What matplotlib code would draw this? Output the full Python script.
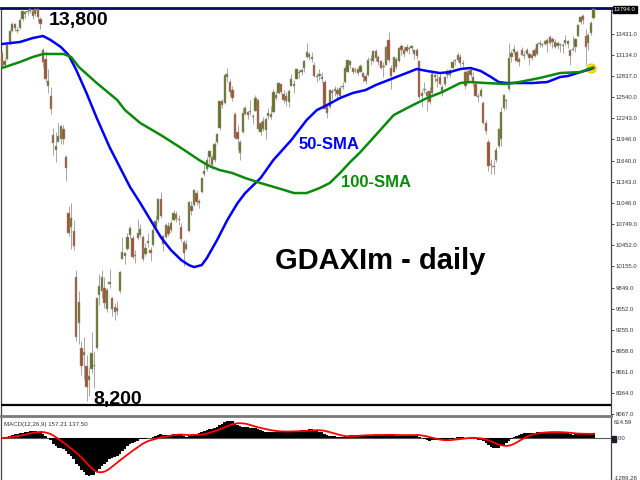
import numpy as np
import pandas as pd
import matplotlib
matplotlib.use("Agg")
import matplotlib.pyplot as plt

plt.rcParams['font.family'] = ['Liberation Sans', 'DejaVu Sans']

# GDAXIm daily bars, 31 Jan 2020 .. 28 Dec 2020 (one line per month)
opens = [13160,
    12990, 13080, 13300, 13480, 13570, 13480, 13510, 13640, 13720, 13750, 13760, 13750, 13720, 13780, 13640, 13200, 13080, 12700, 12560, 12000,
    11800, 11900, 11950, 12090, 11700, 10900, 10700, 10650, 10000, 9350, 9000, 8900, 8750, 8550, 8700, 8750, 9000, 9750, 9800, 9850, 9550, 9900,
    9700, 9500, 9560, 9800, 10250, 10300, 10400, 10600, 10550, 10300, 10550, 10600, 10560, 10320, 10480, 10380, 10450, 10700, 10800, 11100,
    10580, 10560, 10720, 10660, 10800, 10890, 10800, 10700, 10500, 10400, 10650, 11000, 11020, 11180, 11050, 11200, 11450, 11530, 11690, 11700,
    11650, 11900, 12100, 12480, 12450, 12870, 12750, 12640, 12300, 12050, 11750, 12050, 12300, 12330, 12350, 12260, 12350, 12500, 12050, 12200, 12080, 12280,
    12300, 12330, 12570, 12600, 12720, 12580, 12550, 12470, 12700, 12730, 12800, 12900, 12890, 12950, 13100, 13150, 13080, 13000, 12830, 12860, 12800, 12750, 12400,
    12400, 12630, 12620, 12640, 12560, 12700, 12750, 12900, 13050, 12950, 12910, 12930, 12900, 12880, 12840, 12850, 13080, 13050, 13190, 13100, 13050,
    12960, 13000, 13350, 12950, 12900, 13080, 13050, 13260, 13150, 13250, 13220, 13230, 13150, 13200, 13050, 12560, 12640, 12560, 12620, 12600, 12850, 12800,
    12830, 12620, 12720, 12850, 12850, 12950, 13050, 13070, 13110, 13010, 12900, 12760, 12920, 12830, 12720, 12540, 12560, 12450, 12170, 11900, 11580, 11560,
    11650, 11850, 11950, 12380, 12500, 12650, 13100, 13180, 13180, 13030, 13200, 13120, 13150, 13150, 13090, 13200, 13150, 13300, 13280, 13290, 13350,
    13300, 13360, 13320, 13260, 13280, 13260, 13300, 13330, 13200, 13200, 13250, 13400, 13600, 13680, 13400, 13300, 13440, 13650]

highs = [13190,
    13090, 13300, 13490, 13600, 13580, 13530, 13650, 13760, 13760, 13770, 13800, 13790, 13800, 13800, 13670, 13240, 13190, 12930, 12680, 12100,
    12050, 12170, 12150, 12140, 11730, 11000, 11050, 10800, 10100, 9800, 9100, 9150, 8900, 8720, 9230, 8950, 9720, 10050, 10100, 10000, 9850, 10120,
    9720, 9630, 9660, 10090, 10570, 10360, 10620, 10720, 10600, 10380, 10820, 10750, 10600, 10480, 10620, 10420, 10700, 10870, 11110, 11200,
    10600, 10770, 10780, 10810, 10950, 10930, 10870, 10760, 10520, 10520, 11070, 11080, 11240, 11230, 11100, 11400, 11600, 11690, 11790, 11720,
    11900, 12040, 12490, 12520, 12880, 12950, 12790, 12700, 12330, 12150, 11930, 12400, 12420, 12350, 12500, 12300, 12570, 12520, 12200, 12260, 12260, 12380,
    12420, 12650, 12620, 12750, 12730, 12640, 12610, 12650, 12860, 12780, 12950, 12920, 12950, 13060, 13310, 13180, 13180, 13040, 12880, 12940, 12900, 12780, 12450,
    12660, 12650, 12700, 12680, 12690, 12760, 13000, 13070, 13060, 12970, 12970, 12960, 13010, 12900, 12880, 13100, 13140, 13200, 13220, 13140, 13060,
    13030, 13260, 13460, 13000, 13110, 13100, 13250, 13290, 13250, 13290, 13260, 13280, 13220, 13230, 13060, 12640, 12760, 12640, 12680, 12890, 12880, 12860,
    12890, 12720, 12840, 12930, 12940, 13060, 13080, 13170, 13150, 13070, 12920, 12920, 12970, 12900, 12760, 12600, 12680, 12480, 12220, 11950, 11670, 11650,
    11830, 12100, 12400, 12580, 12520, 13300, 13200, 13280, 13210, 13110, 13250, 13190, 13240, 13170, 13200, 13250, 13300, 13340, 13310, 13350, 13370,
    13420, 13390, 13360, 13330, 13300, 13300, 13420, 13350, 13220, 13400, 13380, 13570, 13700, 13720, 13500, 13440, 13620, 13810]

lows = [12950,
    12950, 13060, 13280, 13460, 13480, 13440, 13500, 13620, 13650, 13700, 13730, 13640, 13690, 13600, 13500, 12970, 12750, 12600, 12300, 11720,
    11630, 11900, 11880, 11880, 11360, 10580, 10400, 10380, 9100, 9050, 8620, 8560, 8255, 8320, 8650, 8440, 8990, 9600, 9700, 9560, 9500, 9850,
    9450, 9400, 9460, 9780, 10250, 10180, 10380, 10550, 10260, 10200, 10530, 10570, 10230, 10300, 10430, 10220, 10440, 10640, 10780, 10830,
    10370, 10550, 10580, 10640, 10790, 10780, 10730, 10510, 10160, 10380, 10640, 10880, 11000, 11020, 10970, 11190, 11430, 11500, 11600, 11530,
    11630, 11880, 12080, 12380, 12440, 12750, 12560, 12490, 11950, 11800, 11650, 12040, 12290, 12230, 12290, 12160, 12340, 12080, 12000, 12060, 11950, 12230,
    12230, 12320, 12500, 12590, 12580, 12460, 12420, 12400, 12690, 12600, 12790, 12810, 12850, 12900, 13090, 13060, 13030, 12820, 12760, 12780, 12760, 12400, 12250,
    12390, 12520, 12560, 12530, 12520, 12650, 12740, 12890, 12950, 12860, 12880, 12850, 12890, 12750, 12730, 12840, 13000, 13030, 13050, 13000, 12930,
    12830, 12990, 13030, 12660, 12890, 12940, 13030, 13140, 13100, 13170, 13150, 13190, 13080, 13080, 12520, 12400, 12600, 12340, 12440, 12590, 12760, 12680,
    12710, 12560, 12700, 12810, 12820, 12930, 13000, 13040, 12980, 12970, 12650, 12750, 12830, 12700, 12550, 12470, 12540, 12160, 12020, 11500, 11450, 11450,
    11620, 11820, 11850, 12360, 12370, 12620, 13030, 13150, 13030, 12980, 13130, 13080, 13130, 12990, 13070, 13110, 13140, 13250, 13250, 13270, 13180,
    13280, 13240, 13230, 13220, 13170, 13160, 13280, 13240, 13000, 13190, 13180, 13390, 13570, 13570, 13000, 13200, 13420, 13640]

closes = [12982,
    13045, 13281, 13479, 13575, 13513, 13494, 13627, 13749, 13745, 13744, 13783, 13681, 13789, 13664, 13579, 13035, 12790, 12774, 12367, 11890,
    11857, 11985, 12127, 11944, 11541, 10625, 10830, 10439, 9161, 9650, 8742, 8939, 8442, 8610, 8929, 8741, 9701, 9874, 10000, 9633, 9815, 9936,
    9544, 9571, 9525, 10075, 10356, 10333, 10565, 10697, 10280, 10301, 10626, 10676, 10249, 10415, 10514, 10337, 10660, 10796, 11107, 10862,
    10467, 10730, 10607, 10759, 10904, 10825, 10820, 10542, 10337, 10465, 11058, 10939, 11223, 11065, 11074, 11392, 11504, 11657, 11781, 11587,
    11880, 12021, 12487, 12431, 12848, 12820, 12614, 12530, 11970, 11949, 11911, 12315, 12382, 12281, 12331, 12262, 12523, 12093, 12177, 12089, 12232, 12311,
    12260, 12608, 12528, 12733, 12616, 12495, 12489, 12633, 12799, 12697, 12930, 12874, 12920, 13046, 13171, 13104, 13103, 12838, 12838, 12835, 12822, 12379, 12313,
    12647, 12600, 12660, 12591, 12674, 12687, 12946, 13058, 12993, 12901, 12920, 12881, 12977, 12830, 12764, 13066, 13061, 13190, 13096, 13033, 12945,
    12974, 13243, 13057, 12842, 13100, 12968, 13237, 13209, 13202, 13194, 13218, 13255, 13208, 13116, 12542, 12595, 12643, 12606, 12469, 12871, 12826, 12761,
    12731, 12689, 12828, 12906, 12928, 13042, 13051, 13139, 13018, 13028, 12703, 12909, 12854, 12736, 12558, 12543, 12646, 12178, 12064, 11561, 11598, 11556,
    11789, 12089, 12325, 12568, 12480, 13096, 13164, 13217, 13053, 13076, 13139, 13133, 13202, 13086, 13137, 13127, 13292, 13289, 13286, 13335, 13291,
    13382, 13313, 13252, 13298, 13271, 13278, 13340, 13295, 13114, 13223, 13362, 13565, 13667, 13630, 13246, 13418, 13587, 13790]

# moving averages (bar index, price)
sma50_idx = [0, 7, 12, 16, 19, 23, 26, 29, 33, 37, 42, 46, 50, 54, 58, 62, 66, 70, 73, 75,
             78, 80, 84, 88, 92, 95, 101, 106, 113, 119, 123, 127, 132, 137, 142, 146, 153, 159, 162, 166,
             171, 175, 179, 183, 187, 191, 194, 197, 202, 207, 213, 218, 221, 226, 230, 231]
sma50_val = [13290, 13318, 13374, 13403, 13346, 13247, 13134, 12923, 12598, 12245, 11835, 11553, 11271, 11045, 10805, 10565, 10381, 10240, 10169, 10141,
             10169, 10268, 10522, 10805, 11045, 11186, 11398, 11652, 11934, 12217, 12358, 12428, 12527, 12598, 12640, 12711, 12810, 12894, 12937, 12909,
             12880, 12894, 12937, 12951, 12909, 12824, 12753, 12739, 12739, 12739, 12753, 12824, 12838, 12894, 12937, 12950]
sma100_idx = [0, 7, 12, 16, 24, 27, 30, 37, 45, 48, 54, 62, 70, 77, 81, 85, 90, 95, 101, 109,
              114, 119, 124, 128, 132, 136, 140, 146, 153, 159, 166, 172, 179, 183, 189, 197, 202, 210, 218, 226, 230, 231]
sma100_val = [12951, 13036, 13106, 13149, 13149, 13106, 12965, 12739, 12499, 12358, 12174, 12005, 11821, 11652, 11567, 11511, 11468, 11398, 11327, 11242,
              11186, 11186, 11256, 11327, 11468, 11624, 11765, 12005, 12287, 12400, 12527, 12612, 12739, 12753, 12739, 12725, 12753, 12810, 12880, 12894, 12951, 12960]

price_ticks = [13737.0, 13431.0, 13134.0, 12837.0, 12540.0, 12243.0, 11946.0, 11640.0, 11343.0, 11046.0,
               10749.0, 10452.0, 10155.0, 9849.0, 9552.0, 9255.0, 8958.0, 8661.0, 8364.0, 8067.0]
last_price = 13794.0
level_hi, level_lo = 13800, 8200
macd_top, macd_bottom = 614.59, -1289.28
macd_label = 'MACD(12,26,9) 157.21 137.50'

n = len(closes)
assert len(opens) == n and len(highs) == n and len(lows) == n, (len(opens), len(highs), len(lows), n)

x = np.arange(n)
o = np.array(opens, float)
h = np.array(highs, float)
l = np.array(lows, float)
c = np.array(closes, float)

bull, bear = '#66721f', '#a0522d'
wick = '#a6a6a6'

def fx(px):
    return px / 640

def fy(py):
    return 1 - py / 480

fig = plt.figure(figsize=(6.4, 4.8), dpi=100)
ax = fig.add_axes([fx(1), fy(416), 610 / 640, 408 / 480])
ax2 = fig.add_axes([fx(1), 0, 610 / 640, 62 / 480])

# candles
up = c >= o
ax.vlines(x, l, h, color=wick, lw=0.7, zorder=2)
ax.bar(x, np.maximum(np.abs(c - o), 12), bottom=np.minimum(o, c), width=0.9,
       color=np.where(up, bull, bear), edgecolor='#9a9a9a', linewidth=0.35, zorder=3)

# averages
ax.plot(sma50_idx, sma50_val, color='#0000ff', lw=1.8, zorder=5, solid_capstyle='round')
ax.plot(sma100_idx, sma100_val, color='#0a8a0a', lw=1.8, zorder=5, solid_capstyle='round')
ax.plot([sma100_idx[-2]], [sma100_val[-2]], 'o', ms=6.5, mfc='#ffe400', mec='#f2c200', mew=0.8, zorder=4)

ax.axhline(level_lo, color='black', lw=1.6, zorder=6)

ax.set_xlim(-0.4, 610 / 2.56 - 0.4)
ax.set_ylim(8039, 13798)
ax.yaxis.tick_right()
ax.set_yticks(price_ticks)
ax.set_yticklabels([f'{v:.1f}' for v in price_ticks])
ax.tick_params(axis='y', direction='out', length=2.5, width=0.6, labelsize=4.3, pad=1,
               colors='#333333')
ax.set_xticks([])
for side in ('left', 'right'):
    ax.spines[side].set_color('#444444')
    ax.spines[side].set_linewidth(0.9)
ax.spines['top'].set_color('#0a0a5a')
ax.spines['top'].set_linewidth(2.0)
ax.spines['bottom'].set_color('#7a7a7a')
ax.spines['bottom'].set_linewidth(2.0)

# MACD panel (MT4 style: histogram main line, SMA signal)
s = pd.Series(c)
macd = s.ewm(span=12, adjust=False).mean() - s.ewm(span=26, adjust=False).mean()
signal = macd.rolling(9, min_periods=1).mean()
ax2.bar(x, macd, width=1.0, color='black', lw=0, zorder=2)
ax2.axhline(0, color='#555555', lw=0.8, zorder=1)
ax2.plot(x, signal, color='#ff0000', lw=1.3, zorder=3)
ax2.set_xlim(ax.get_xlim())
ax2.set_ylim(macd_bottom, macd_top)
ax2.set_xticks([])
ax2.set_yticks([])
ax2.spines['top'].set_visible(False)
ax2.spines['bottom'].set_visible(False)
for side in ('left', 'right'):
    ax2.spines[side].set_color('#444444')
    ax2.spines[side].set_linewidth(0.9)

# labels
fig.text(fx(49), fy(25), '13,800', fontsize=14, weight='bold', va='baseline')
fig.text(fx(93), fy(404), '8,200', fontsize=14, weight='bold', va='baseline', zorder=7)
fig.text(fx(299), fy(149), '50-SMA', fontsize=12, weight='bold', color='#0000ff', va='baseline')
fig.text(fx(341), fy(187), '100-SMA', fontsize=12, weight='bold', color='#0a8a0a', va='baseline')
fig.text(fx(275), fy(269), 'GDAXIm - daily', fontsize=21, weight='bold', va='baseline')
fig.text(fx(4), fy(426), macd_label, fontsize=4.4, color='#333333', va='baseline')

fig.text(fx(614), fy(9.5), f'{last_price:.1f}', fontsize=4.3, color='white', va='center',
         bbox=dict(boxstyle='square,pad=0.15', fc='black', ec='black'))
fig.text(fx(614), fy(422), f'{macd_top:.2f}', fontsize=4.3, color='#333333', va='center')
fig.text(fx(614), fy(439), '0.00', fontsize=4.3, color='#333333', va='center',
         bbox=dict(boxstyle='square,pad=0.05', fc='none', ec='none'))
fig.add_artist(plt.Rectangle((fx(612), fy(442)), 4 / 640, 6 / 480, color='#1a1a2a'))
fig.text(fx(614), fy(478), f'{macd_bottom:.2f}', fontsize=4.3, color='#333333', va='center')

fig.savefig('out.png', dpi=100)
